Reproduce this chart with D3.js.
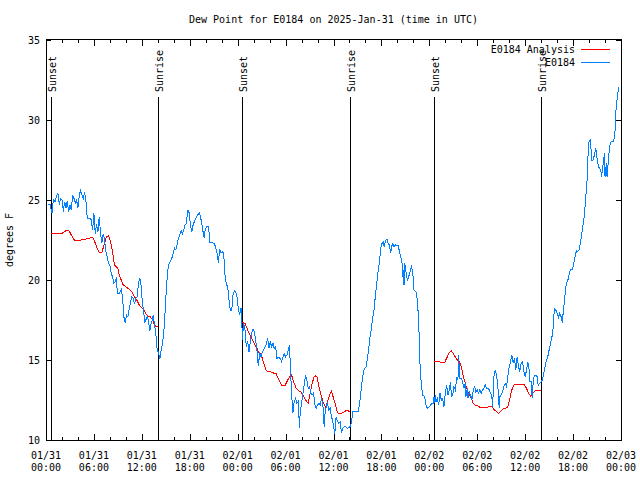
<!DOCTYPE html>
<html><head><meta charset="utf-8">
<script src="https://cdn.jsdelivr.net/npm/d3@7"></script>
<style>
body{margin:0;background:#fff}
svg{display:block}
text{font-family:"DejaVu Sans Mono","Liberation Mono",monospace;font-size:10px;fill:#000}
</style>
</head><body>
<svg id="c" width="640" height="480"></svg>
<script>
// ---------- data ----------
const chartTitle = "Dew Point for E0184 on 2025-Jan-31 (time in UTC)";
const yAxisLabel = "degrees F";
const seriesNames = ["E0184 Analysis", "E0184"];
const seriesColors = ["#ff0000", "#0080ff"];
const yTicks = [10, 15, 20, 25, 30, 35];
const xTickHours = [0, 6, 12, 18, 24, 30, 36, 42, 48, 54, 60, 66, 72];
const xTickDates = ["01/31","01/31","01/31","01/31","02/01","02/01","02/01","02/01","02/02","02/02","02/02","02/02","02/03"];
const xTickTimes = ["00:00","06:00","12:00","18:00","00:00","06:00","12:00","18:00","00:00","06:00","12:00","18:00","00:00"];
const sunHours = [0.67, 14.04, 24.54, 38.04, 48.54, 62.04];
const sunLabels = ["Sunset","Sunrise","Sunset","Sunrise","Sunset","Sunrise"];

// E0184 observations: [hours since 01/31 00:00 UTC, dew point F]
const observed = [
[0.25,24.69],[0.5,24.75],[0.75,24.17],[0.92,25.0],[1.13,24.9],[1.33,25.3],[1.5,25.4],[1.67,24.7],[1.83,25.1],[2.04,25.0],
[2.17,24.27],[2.33,24.9],[2.5,24.5],[2.67,24.96],[2.83,24.27],[3.0,24.7],[3.17,24.4],[3.33,25.3],[3.5,25.1],[3.67,24.8],
[3.83,25.0],[4.0,24.5],[4.17,25.3],[4.33,25.6],[4.5,25.3],[4.67,25.1],[4.83,25.5],[5.0,25.0],[5.08,24.17],[5.25,23.85],
[5.5,23.85],[5.67,23.75],[5.83,23.1],[6.0,24.17],[6.17,22.9],[6.33,23.5],[6.5,23.0],[6.67,23.96],[6.83,22.9],[7.0,22.3],
[7.17,22.9],[7.33,22.5],[7.5,21.77],[7.67,21.46],[7.83,21.04],[8.0,20.9],[8.17,20.4],[8.33,20.2],[8.5,19.8],[8.67,19.9],
[8.83,20.2],[8.92,19.17],[9.17,19.17],[9.42,19.4],[9.58,18.96],[9.75,17.7],[9.92,17.3],[10.08,17.8],[10.25,17.7],[10.42,18.2],
[10.58,18.6],[10.75,18.96],[10.92,18.85],[11.08,18.5],[11.25,18.85],[11.42,18.96],[11.58,19.8],[11.75,20.1],[11.92,19.6],[12.08,18.5],
[12.25,18.0],[12.33,17.3],[12.5,17.5],[12.67,17.7],[12.83,17.5],[13.0,16.8],[13.08,17.1],[13.25,17.4],[13.42,17.8],[13.58,17.2],
[13.75,16.7],[13.92,15.6],[14.08,15.5],[14.25,15.04],[14.42,15.6],[14.58,16.0],[14.75,16.67],[14.92,18.1],[15.08,19.5],[15.25,20.6],
[15.42,21.04],[15.58,21.15],[15.75,21.35],[15.92,21.67],[16.08,22.0],[16.25,21.9],[16.42,22.2],[16.58,22.6],[16.75,22.8],[16.92,23.1],
[17.08,22.9],[17.25,23.1],[17.42,23.44],[17.58,23.54],[17.75,24.4],[17.92,24.2],[18.08,23.44],[18.25,23.0],[18.42,23.44],[18.58,23.65],
[18.75,23.85],[18.92,24.0],[19.17,24.2],[19.33,24.0],[19.5,23.54],[19.67,23.0],[19.83,22.6],[19.92,23.1],[20.08,23.33],[20.33,23.33],
[20.42,23.0],[20.5,22.33],[20.75,22.33],[21.08,22.3],[21.25,22.0],[21.42,21.67],[21.58,21.08],[21.75,21.9],[21.92,21.7],[22.08,21.77],
[22.25,21.67],[22.42,20.3],[22.58,19.7],[22.75,19.6],[22.92,18.75],[23.08,18.1],[23.25,18.08],[23.42,19.06],[23.58,19.33],[23.75,19.27],
[23.92,18.96],[24.0,18.54],[24.08,18.23],[24.25,17.8],[24.42,18.23],[24.5,17.9],[24.58,16.25],[24.75,17.3],[24.92,16.9],[25.08,15.83],
[25.25,16.15],[25.42,15.5],[25.58,16.15],[25.75,16.67],[25.92,16.9],[26.08,16.8],[26.25,16.25],[26.42,15.6],[26.58,14.6],[26.75,15.4],
[26.92,15.2],[27.08,15.5],[27.25,15.6],[27.42,15.83],[27.58,15.94],[27.75,16.35],[27.92,15.73],[28.08,16.15],[28.25,15.83],[28.42,16.04],
[28.58,15.73],[28.75,15.83],[28.92,15.1],[29.08,15.17],[29.33,15.1],[29.5,14.9],[29.67,15.2],[29.83,15.38],[30.0,15.2],[30.17,15.3],
[30.33,15.6],[30.5,15.94],[30.58,14.79],[30.75,12.92],[30.92,11.67],[31.08,12.4],[31.25,12.6],[31.42,12.29],[31.58,12.4],[31.75,10.73],
[31.83,11.77],[32.0,12.29],[32.17,12.92],[32.33,13.44],[32.5,14.06],[32.67,13.75],[32.83,13.23],[33.0,13.33],[33.17,12.92],[33.33,12.81],
[33.5,12.92],[33.67,12.19],[33.83,11.98],[34.0,12.19],[34.17,12.29],[34.33,12.19],[34.5,12.6],[34.67,12.19],[34.83,10.83],[34.92,11.56],
[35.08,12.08],[35.25,12.29],[35.42,11.88],[35.58,11.98],[35.75,11.46],[35.92,11.15],[36.08,10.63],[36.17,10.4],[36.33,11.46],[36.5,11.15],
[36.67,11.04],[36.83,11.15],[37.0,10.46],[37.17,10.73],[37.33,10.83],[37.5,10.83],[37.75,10.73],[37.92,10.79],[38.08,10.83],[38.25,11.08],
[38.42,11.77],[38.75,11.77],[39.08,11.77],[39.25,12.19],[39.42,12.92],[39.58,13.65],[39.75,14.27],[39.92,14.48],[40.08,14.58],[40.25,15.1],
[40.42,15.73],[40.58,16.46],[40.75,16.98],[40.92,17.7],[41.08,18.13],[41.25,19.06],[41.42,19.79],[41.58,20.52],[41.75,21.15],[41.92,21.98],
[42.08,22.29],[42.25,22.4],[42.33,22.08],[42.42,22.29],[42.58,22.5],[42.75,22.54],[42.83,22.29],[43.0,22.19],[43.17,21.67],[43.25,22.08],
[43.42,22.25],[43.58,22.08],[43.75,22.19],[43.92,22.13],[44.08,22.19],[44.25,21.8],[44.42,21.46],[44.58,21.04],[44.67,20.21],[44.75,20.63],
[44.83,19.69],[44.92,21.04],[45.08,20.52],[45.25,20.0],[45.42,20.21],[45.58,20.52],[45.75,20.83],[45.92,20.52],[46.08,19.38],[46.33,19.27],
[46.5,18.75],[46.67,17.4],[46.83,14.79],[47.0,13.44],[47.17,12.81],[47.42,12.71],[47.58,12.19],[47.75,11.98],[48.0,12.08],[48.25,12.25],
[48.5,12.29],[48.58,12.71],[48.67,12.29],[48.75,12.81],[48.83,12.4],[49.0,12.6],[49.17,12.19],[49.33,12.92],[49.5,12.5],[49.67,12.6],
[49.83,12.08],[50.0,12.92],[50.17,13.44],[50.33,12.81],[50.5,13.13],[50.67,13.65],[50.75,12.71],[50.92,12.81],[51.08,13.33],[51.25,13.13],
[51.42,13.85],[51.58,13.75],[51.67,15.31],[51.75,14.38],[51.83,13.85],[52.0,13.85],[52.17,13.65],[52.33,13.23],[52.5,13.54],[52.58,12.71],
[52.75,13.23],[52.83,12.6],[53.0,13.0],[53.17,12.81],[53.33,12.5],[53.5,13.13],[53.67,13.33],[53.83,13.0],[54.0,13.13],[54.17,12.92],
[54.33,13.13],[54.5,12.92],[54.67,13.13],[54.83,13.23],[55.0,13.44],[55.17,13.23],[55.33,13.23],[55.5,13.13],[55.67,12.92],[55.83,12.71],
[55.92,12.08],[56.08,13.96],[56.25,14.38],[56.42,14.06],[56.58,13.33],[56.75,11.98],[56.83,12.71],[57.0,12.81],[57.17,13.0],[57.33,13.33],
[57.5,13.54],[57.67,13.33],[57.83,13.96],[58.0,14.58],[58.17,14.9],[58.33,15.31],[58.5,14.79],[58.67,15.1],[58.83,14.38],[59.0,15.2],
[59.17,14.58],[59.33,14.27],[59.5,14.79],[59.67,14.9],[59.83,14.27],[60.0,13.96],[60.17,14.38],[60.33,14.9],[60.5,14.38],[60.58,13.65],
[60.75,13.65],[60.83,12.92],[60.92,12.6],[61.0,13.65],[61.17,14.06],[61.33,14.06],[61.5,13.96],[61.58,13.54],[61.67,13.44],[61.83,13.54],
[62.0,13.65],[62.17,13.75],[62.33,14.17],[62.5,14.58],[62.67,15.0],[62.83,15.2],[63.0,15.63],[63.17,16.04],[63.33,16.35],[63.5,16.98],
[63.58,17.7],[63.67,18.23],[63.83,18.13],[64.0,17.92],[64.17,17.67],[64.33,17.92],[64.5,17.7],[64.67,17.33],[64.75,17.92],[64.92,18.65],
[65.08,19.58],[65.25,19.9],[65.42,20.1],[65.58,20.52],[65.75,20.67],[65.92,20.63],[66.08,21.04],[66.25,21.46],[66.42,21.83],[66.58,21.77],
[66.75,21.88],[66.92,22.29],[67.08,22.88],[67.25,23.44],[67.42,24.06],[67.58,25.1],[67.75,26.25],[67.83,27.29],[67.92,28.33],[68.0,28.65],
[68.17,28.75],[68.25,28.13],[68.33,27.5],[68.5,27.5],[68.67,27.81],[68.83,28.23],[68.92,28.02],[69.0,27.6],[69.17,27.08],[69.33,26.98],
[69.5,26.77],[69.58,26.46],[69.67,26.88],[69.83,27.5],[69.92,27.92],[70.0,26.46],[70.17,27.29],[70.25,26.46],[70.33,26.88],[70.42,27.5],
[70.58,28.33],[70.75,28.65],[71.08,28.65],[71.25,29.27],[71.33,30.31],[71.42,30.94],[71.58,31.56],[71.67,31.98],[71.75,32.08]
];

// E0184 Analysis, night 1
const analysisNight1 = [
[0.67,22.88],[1.92,22.88],[2.17,22.98],[2.5,23.08],[2.88,23.08],[3.29,22.7],[3.63,22.44],[4.04,22.44],[4.54,22.54],[4.96,22.56],
[5.38,22.6],[5.79,22.67],[6.0,22.54],[6.33,22.08],[6.67,21.7],[7.0,21.7],[7.25,22.19],[7.58,22.7],[7.83,22.75],[8.08,22.4],
[8.33,21.77],[8.58,20.94],[8.83,20.8],[9.0,20.73],[9.17,20.3],[9.42,20.0],[9.67,19.69],[9.96,19.6],[10.25,19.48],[10.5,19.38],
[10.83,19.2],[11.08,18.96],[11.42,18.7],[11.67,18.44],[12.0,18.27],[12.25,18.13],[12.5,17.88],[12.75,17.75],[13.08,17.7],[13.33,17.5],
[13.58,17.2],[13.83,17.08],[14.04,17.08]
];
// night 2
const analysisNight2 = [
[24.58,17.33],[24.92,17.3],[25.17,16.98],[25.42,16.67],[25.75,16.35],[26.08,16.04],[26.42,15.73],[26.67,15.42],[26.92,15.38],[27.08,15.1],
[27.33,14.7],[27.58,14.33],[28.0,14.27],[28.42,14.2],[28.83,14.13],[29.08,13.85],[29.33,13.58],[29.58,13.38],[29.92,13.38],[30.17,13.65],
[30.5,13.96],[30.75,14.06],[31.0,13.65],[31.33,13.23],[31.67,13.08],[32.0,12.96],[32.25,12.71],[32.58,12.46],[32.83,12.29],[33.08,12.92],
[33.33,13.54],[33.58,13.96],[33.75,14.0],[33.92,13.96],[34.08,13.58],[34.25,13.17],[34.5,12.71],[34.75,12.29],[35.0,12.04],[35.25,12.4],
[35.5,12.81],[35.75,13.08],[36.0,12.6],[36.25,12.19],[36.5,11.71],[36.83,11.63],[37.17,11.71],[37.42,11.77],[37.67,11.88],[37.83,11.83],
[38.04,11.77]
];
// night 3
const analysisNight3 = [
[48.58,14.9],[49.25,14.9],[49.5,14.85],[49.92,14.85],[50.25,15.2],[50.5,15.48],[50.75,15.56],[51.0,15.4],[51.25,15.2],[51.5,15.0],
[51.75,14.9],[52.0,14.58],[52.25,14.0],[52.5,13.54],[52.75,13.13],[53.0,12.81],[53.25,12.6],[53.5,12.29],[53.75,12.19],[54.08,12.13],
[54.42,12.02],[54.83,12.02],[55.17,12.04],[55.5,12.08],[55.83,12.08],[56.08,11.92],[56.42,11.77],[56.67,11.67],[56.92,11.77],[57.25,11.94],
[57.58,11.98],[57.83,12.08],[58.08,12.6],[58.33,13.13],[58.58,13.44],[58.92,13.48],[59.25,13.48],[59.58,13.5],[59.92,13.44],[60.17,13.23],
[60.42,12.92],[60.67,12.75],[60.83,12.85],[61.0,12.98],[61.33,13.08],[61.67,13.08],[62.04,13.1]
];

// ---------- drawing ----------
const svg = d3.select("#c");
const L = 46, R = 621, T = 40, B = 440;
const x = d3.scaleLinear().domain([0, 72]).range([L, R]);
const y = d3.scaleLinear().domain([10, 35]).range([B, T]);
const px = v => Math.round(v) + 0.5;

svg.append("rect").attr("width", 640).attr("height", 480).attr("fill", "#fff");

// title
svg.append("text").attr("x", (L + R) / 2).attr("y", 23).attr("text-anchor", "middle").text(chartTitle);

// y label
svg.append("text").attr("transform", "translate(13," + ((T + B) / 2) + ") rotate(-90)")
  .attr("text-anchor", "middle").text(yAxisLabel);

const g = svg.append("g").attr("shape-rendering", "crispEdges");

// sun lines
g.selectAll("line.sun").data(sunHours).join("line").attr("class", "sun")
  .attr("x1", d => px(x(d))).attr("x2", d => px(x(d)))
  .attr("y1", 97).attr("y2", B).attr("stroke", "#000").attr("stroke-width", 1);
svg.selectAll("text.sun").data(sunHours).join("text").attr("class", "sun")
  .attr("transform", d => "translate(" + (x(d) + 5) + ",92) rotate(-90)")
  .text((d, i) => sunLabels[i]);

// ticks
const minorHours = d3.range(0, 73, 2).filter(h => h % 6 !== 0);
g.selectAll("line.xmaj").data(xTickHours).join("line").attr("class", "xmaj")
  .attr("x1", d => px(x(d))).attr("x2", d => px(x(d)))
  .attr("y1", B).attr("y2", B - 6).attr("stroke", "#000");
g.selectAll("line.xmajt").data(xTickHours).join("line").attr("class", "xmajt")
  .attr("x1", d => px(x(d))).attr("x2", d => px(x(d)))
  .attr("y1", T).attr("y2", T + 6).attr("stroke", "#000");
g.selectAll("line.xmin").data(minorHours).join("line").attr("class", "xmin")
  .attr("x1", d => px(x(d))).attr("x2", d => px(x(d)))
  .attr("y1", B).attr("y2", B - 3).attr("stroke", "#000");
g.selectAll("line.xmint").data(minorHours).join("line").attr("class", "xmint")
  .attr("x1", d => px(x(d))).attr("x2", d => px(x(d)))
  .attr("y1", T).attr("y2", T + 3).attr("stroke", "#000");
g.selectAll("line.yl").data(yTicks).join("line").attr("class", "yl")
  .attr("x1", L).attr("x2", L + 5).attr("y1", d => px(y(d))).attr("y2", d => px(y(d))).attr("stroke", "#000");
g.selectAll("line.yr").data(yTicks).join("line").attr("class", "yr")
  .attr("x1", R).attr("x2", R - 5).attr("y1", d => px(y(d))).attr("y2", d => px(y(d))).attr("stroke", "#000");

// tick labels
svg.selectAll("text.xl1").data(xTickHours).join("text").attr("class", "xl1")
  .attr("x", d => x(d)).attr("y", 459).attr("text-anchor", "middle").text((d, i) => xTickDates[i]);
svg.selectAll("text.xl2").data(xTickHours).join("text").attr("class", "xl2")
  .attr("x", d => x(d)).attr("y", 471).attr("text-anchor", "middle").text((d, i) => xTickTimes[i]);
svg.selectAll("text.yl").data(yTicks).join("text").attr("class", "yl")
  .attr("x", 40).attr("y", d => y(d) + 4).attr("text-anchor", "end").text(d => d);

// frame
g.append("rect").attr("x", L + 0.5).attr("y", T - 0.5).attr("width", R - L).attr("height", B - T + 1)
  .attr("fill", "none").attr("stroke", "#000");

// series
const line = d3.line().x(d => x(d[0])).y(d => y(d[1]));
[analysisNight1, analysisNight2, analysisNight3].forEach(s => {
  g.append("path").datum(s).attr("d", line).attr("fill", "none").attr("stroke", seriesColors[0]).attr("stroke-width", 1);
});
g.append("path").datum(observed).attr("d", line).attr("fill", "none").attr("stroke", seriesColors[1]).attr("stroke-width", 1);

// legend
seriesNames.forEach((n, i) => {
  svg.append("text").attr("x", 575).attr("y", 53 + i * 13).attr("text-anchor", "end").text(n);
  g.append("line").attr("x1", 581).attr("x2", 610).attr("y1", 49.5 + i * 13).attr("y2", 49.5 + i * 13)
    .attr("stroke", seriesColors[i]);
});
</script>
</body></html>
